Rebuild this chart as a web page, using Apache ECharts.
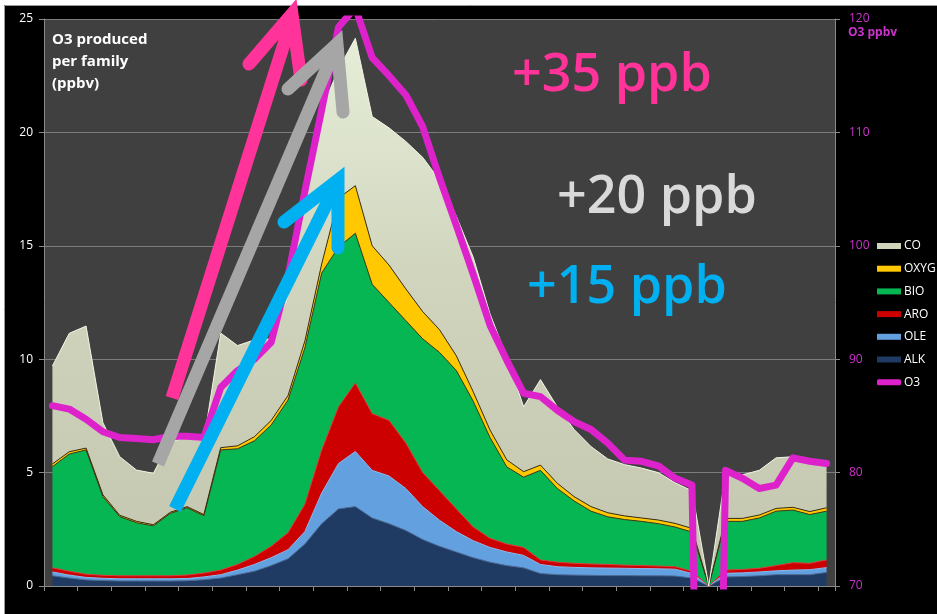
<!DOCTYPE html>
<html>
<head>
<meta charset="utf-8">
<script src="https://cdn.jsdelivr.net/npm/echarts@6.0.0/dist/echarts.min.js"></script>
<style>
  html, body { margin: 0; padding: 0; background: #fff; }
  #chart { width: 937px; height: 614px; }
</style>
</head>
<body>
<div id="chart"></div>
<script>
// time steps along the x axis (no labels shown)
var categories = ['1', '2', '3', '4', '5', '6', '7', '8', '9', '10',
  '11', '12', '13', '14', '15', '16', '17', '18', '19', '20',
  '21', '22', '23', '24', '25', '26', '27', '28', '29', '30',
  '31', '32', '33', '34', '35', '36', '37', '38', '39', '40',
  '41', '42', '43', '44', '45', '46', '47'];

// O3 produced per family (ppbv), stacked bottom -> top
var alk = [0.45, 0.35, 0.27, 0.24, 0.22, 0.22, 0.22, 0.22, 0.23, 0.28,
  0.35, 0.50, 0.65, 0.90, 1.20, 1.85, 2.75, 3.40, 3.50, 3.00,
  2.75, 2.45, 2.05, 1.75, 1.50, 1.25, 1.05, 0.90, 0.80, 0.55,
  0.50, 0.48, 0.47, 0.46, 0.46, 0.45, 0.45, 0.44, 0.35, 0,
  0.40, 0.42, 0.45, 0.50, 0.50, 0.50, 0.60];
var ole = [0.17, 0.13, 0.11, 0.10, 0.10, 0.10, 0.10, 0.10, 0.10, 0.12,
  0.15, 0.20, 0.30, 0.35, 0.40, 0.55, 1.35, 2.00, 2.43, 2.10,
  2.10, 1.85, 1.45, 1.15, 0.90, 0.75, 0.65, 0.60, 0.55, 0.40,
  0.35, 0.34, 0.33, 0.33, 0.32, 0.32, 0.31, 0.30, 0.20, 0,
  0.16, 0.16, 0.17, 0.17, 0.20, 0.22, 0.21];
var aro = [0.18, 0.17, 0.14, 0.13, 0.13, 0.13, 0.13, 0.13, 0.15, 0.17,
  0.20, 0.25, 0.35, 0.50, 0.75, 1.20, 1.90, 2.50, 3.02, 2.50,
  2.45, 2.00, 1.50, 1.30, 1.00, 0.60, 0.40, 0.35, 0.35, 0.20,
  0.20, 0.18, 0.17, 0.16, 0.14, 0.13, 0.12, 0.11, 0.10, 0,
  0.14, 0.15, 0.16, 0.23, 0.33, 0.28, 0.34];
var bio = [4.46, 5.17, 5.48, 3.47, 2.61, 2.34, 2.20, 2.75, 2.97, 2.53,
  5.30, 5.10, 5.10, 5.35, 5.85, 6.90, 7.80, 7.05, 6.60, 5.70,
  5.20, 5.40, 5.90, 6.10, 6.10, 5.55, 4.45, 3.40, 3.10, 3.95,
  3.25, 2.75, 2.33, 2.10, 2.01, 1.95, 1.87, 1.75, 1.73, 0,
  2.15, 2.12, 2.22, 2.40, 2.32, 2.15, 2.15];
var oxyg = [0.12, 0.10, 0.08, 0.08, 0.06, 0.06, 0.05, 0.05, 0.05, 0.05,
  0.10, 0.13, 0.18, 0.20, 0.20, 0.30, 0.40, 2.15, 2.10, 1.70,
  1.65, 1.40, 1.20, 1.00, 0.65, 0.42, 0.33, 0.31, 0.24, 0.23,
  0.23, 0.19, 0.20, 0.18, 0.16, 0.15, 0.16, 0.16, 0.16, 0,
  0.13, 0.13, 0.13, 0.12, 0.12, 0.13, 0.15];
var co = [4.32, 5.22, 5.38, 3.18, 2.58, 2.26, 2.27, 3.15, 3.00, 3.25,
  5.05, 4.42, 4.27, 3.60, 4.40, 6.00, 6.80, 5.70, 6.50, 5.70,
  6.05, 6.50, 6.80, 6.60, 6.15, 5.93, 5.12, 4.54, 2.86, 3.77,
  3.37, 2.96, 2.65, 2.37, 2.26, 2.20, 2.09, 1.79, 1.66, 0,
  1.99, 1.92, 1.97, 2.23, 2.23, 2.27, 1.95];

// O3 ppbv (right axis)
var o3 = [85.9, 85.6, 84.7, 83.6, 83.1, 83.0, 82.9, 83.2, 83.2, 83.1,
  87.5, 89.0, 90.0, 91.5, 97.3, 104.8, 112.0, 119.3, 121.0, 116.6,
  115.0, 113.3, 110.5, 106.0, 101.8, 97.5, 93.0, 89.9, 87.0, 86.7,
  85.5, 84.5, 83.8, 82.6, 81.1, 81.0, 80.6, 79.5, 78.9, 0,
  80.2, 79.5, 78.6, 78.9, 81.3, 81.0, 80.8];

var leftTicks = [0, 25, 5];
var rightTicks = [70, 120, 10];

var FONT = '"Open Sans", "Noto Sans", sans-serif';

var chart = echarts.init(document.getElementById('chart'), null, { renderer: 'canvas' });

function areaSeries(name, data, color, edge, fill) {
  return {
    name: name,
    type: 'line',
    stack: 'family',
    data: data,
    symbol: 'none',
    smooth: false,
    lineStyle: { width: 1, color: edge },
    itemStyle: { color: color },
    areaStyle: { color: fill || color, opacity: 1 },
    emphasis: { disabled: true },
    z: 2
  };
}

var coFill = new echarts.graphic.LinearGradient(0, 0, 0, 1, [
  { offset: 0, color: '#e6eed8' },
  { offset: 0.45, color: '#d0d4bd' },
  { offset: 1, color: '#c4c6af' }
]);

// arrow: shaft from -> to, head arms meeting at tip
function arrow(color, shaft, head, z) {
  return {
    type: 'group',
    silent: true,
    children: [
      {
        type: 'line',
        z: z,
        shape: { x1: shaft[0], y1: shaft[1], x2: shaft[2], y2: shaft[3] },
        style: { stroke: color, lineWidth: 13, lineCap: 'butt' }
      },
      {
        type: 'polyline',
        z: z,
        shape: { points: head },
        style: { stroke: color, fill: null, lineWidth: 13, lineCap: 'round', lineJoin: 'miter' }
      }
    ]
  };
}

var option = {
  animation: false,
  backgroundColor: '#000',
  grid: {
    left: 44, right: 102, top: 19, bottom: 28,
    show: true, backgroundColor: '#404040', borderWidth: 0
  },
  legend: {
    orient: 'vertical',
    left: 877, top: 240,
    padding: 0,
    itemWidth: 24, itemHeight: 6, itemGap: 10.7,
    icon: 'rect',
    selectedMode: false,
    textStyle: { color: '#fff', fontSize: 12, fontFamily: FONT, padding: [0, 0, 0, -2] },
    data: ['CO', 'OXYG', 'BIO', 'ARO', 'OLE', 'ALK', { name: 'O3', icon: 'roundRect' }]
  },
  xAxis: {
    type: 'category',
    data: categories,
    boundaryGap: true,
    axisLine: { lineStyle: { color: '#8a8a8a' } },
    axisTick: { show: true, length: 5, lineStyle: { color: '#8a8a8a' } },
    axisLabel: { show: false },
    splitLine: { show: false }
  },
  yAxis: [
    {
      type: 'value',
      min: leftTicks[0], max: leftTicks[1], interval: leftTicks[2],
      axisLine: { show: true, lineStyle: { color: '#8a8a8a' } },
      axisTick: { show: true, length: 5, lineStyle: { color: '#8a8a8a' } },
      axisLabel: { color: '#fff', fontSize: 12, fontFamily: FONT, margin: 11 },
      splitLine: { show: true, lineStyle: { color: '#7c7c7c', width: 1 } }
    },
    {
      type: 'value',
      position: 'right',
      min: rightTicks[0], max: rightTicks[1], interval: rightTicks[2],
      axisLine: { show: true, lineStyle: { color: '#8a8a8a' } },
      axisTick: { show: true, length: 5, lineStyle: { color: '#8a8a8a' } },
      axisLabel: { color: '#cc33cc', fontSize: 12, fontFamily: FONT, margin: 14 },
      splitLine: { show: false }
    }
  ],
  series: [
    areaSeries('ALK', alk, '#1f3b63', '#4d6b95'),
    areaSeries('OLE', ole, '#62a0e0', '#8dbcef'),
    areaSeries('ARO', aro, '#cc0000', '#e23a3a'),
    areaSeries('BIO', bio, '#06b652', '#3b3a20'),
    areaSeries('OXYG', oxyg, '#ffc800', '#3b3010'),
    areaSeries('CO', co, '#d0d4bd', '#f2f5e6', coFill),
    {
      name: 'O3',
      type: 'line',
      yAxisIndex: 1,
      data: o3,
      symbol: 'none',
      clip: true,
      itemStyle: { color: '#dd22cc' },
      lineStyle: { width: 7, color: '#dd22cc', cap: 'round', join: 'round' },
      emphasis: { disabled: true },
      z: 5
    }
  ],
  graphic: [
    { type: 'rect', silent: true, shape: { x: 0, y: 0, width: 937, height: 5 }, style: { fill: '#fff' } },
    { type: 'rect', silent: true, shape: { x: 0, y: 0, width: 4, height: 614 }, style: { fill: '#fff' } },
    { type: 'polyline', silent: true, shape: { points: [[4.5, 614], [4.5, 5.5], [937, 5.5]] }, style: { stroke: '#9a9a9a', fill: null, lineWidth: 1 } },
    {
      type: 'text', silent: true, x: 52, y: 29, z: 50,
      style: { text: 'O3 produced\nper family\n(ppbv)', fill: '#fff', font: 'bold 15px ' + FONT, lineHeight: 22 }
    },
    {
      type: 'text', silent: true, x: 848, y: 27, z: 50,
      style: { text: 'O3 ppbv', fill: '#cc33cc', font: 'bold 12px ' + FONT }
    },
    arrow('#ff3399', [172, 398, 289, 28], [[249, 64], [292, 14], [301, 80]], 100),
    arrow('#a6a6a6', [158, 464, 332, 56], [[288, 89], [337, 44], [343, 112]], 101),
    arrow('#00b0f0', [175, 509, 333, 191], [[284, 222], [338, 180], [338, 248]], 102),
    {
      type: 'text', silent: true, x: 512, y: 76, z: 110,
      style: { text: '+35 ppb', fill: '#ff3399', font: '600 52px ' + FONT, verticalAlign: 'middle' }
    },
    {
      type: 'text', silent: true, x: 557, y: 198, z: 110,
      style: { text: '+20 ppb', fill: '#d9d9d9', font: '600 52px ' + FONT, verticalAlign: 'middle' }
    },
    {
      type: 'text', silent: true, x: 527, y: 288, z: 110,
      style: { text: '+15 ppb', fill: '#00b0f0', font: '600 52px ' + FONT, verticalAlign: 'middle' }
    }
  ]
};

chart.setOption(option);
</script>
</body>
</html>
